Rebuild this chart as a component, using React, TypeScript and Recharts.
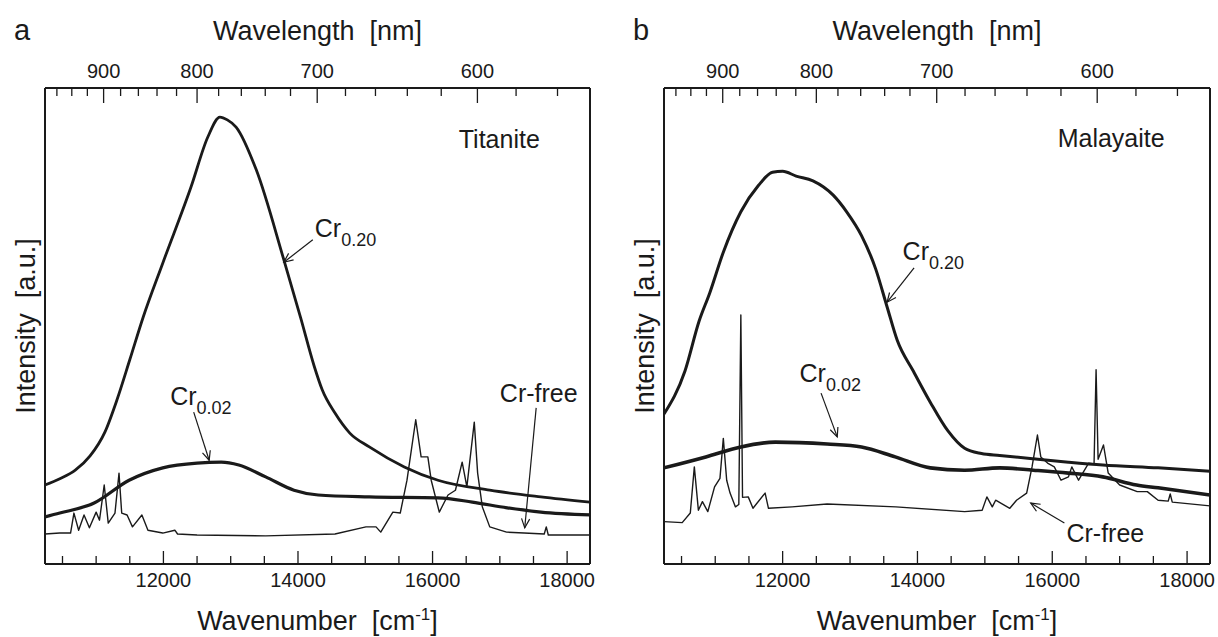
import React from "react";
import { LineChart, Line, XAxis, YAxis, ReferenceLine, ReferenceDot } from "recharts";

const FONT = '"Liberation Sans", Arial, Helvetica, sans-serif';
const INK = "#1a1a1a";

// shared axes
const WN_DOMAIN: [number, number] = [10240, 18340];
const WN_TICKS = [10500, 11000, 11500, 12000, 12500, 13000, 13500, 14000, 14500, 15000, 15500, 16000, 16500, 17000, 17500, 18000];
const WN_LABELS = [12000, 14000, 16000, 18000];
const NM_TICKS = [960, 940, 920, 900, 880, 860, 840, 820, 800, 780, 760, 740, 720, 700, 680, 660, 640, 620, 600, 580, 560];
const NM_LABELS = [900, 800, 700, 600];

// panel a: titanite, [wavenumber cm-1, intensity a.u.]
const titaniteCr020 = [
  [10240, 16.6], [10460, 17.9], [10690, 19.7], [10910, 22.7], [11130, 27.7], [11310, 34.5],
  [11500, 42.9], [11700, 51.9], [11990, 63.2], [12410, 79.2], [12660, 89.7], [12840, 93.9],
  [12950, 93.3], [13080, 91.8], [13380, 82.8], [13790, 63.9], [14040, 51.7], [14240, 41.6],
  [14360, 36.6], [14550, 31.7], [14770, 27.5], [15060, 24.6], [15580, 20.4], [16080, 17.6],
  [16850, 15.5], [17610, 14.1], [18340, 13.0],
];
const titaniteCr002 = [
  [10240, 9.9], [10460, 10.7], [10970, 12.8], [11490, 17.6], [11990, 20.2], [12500, 21.2],
  [12860, 21.4], [13120, 20.8], [13520, 18.3], [13940, 15.5], [14300, 14.5], [15060, 14.1],
  [16080, 13.9], [16590, 13.0], [17110, 11.8], [17610, 10.9], [18340, 10.3],
];
const titaniteCrFree = [
  [10240, 6.3], [10460, 6.5], [10620, 6.5], [10670, 10.7], [10740, 7.1], [10820, 10.3],
  [10900, 7.6], [11000, 10.9], [11050, 9.2], [11120, 16.6], [11180, 8.6], [11280, 10.7],
  [11340, 19.1], [11380, 10.7], [11460, 10.3], [11540, 7.8], [11680, 10.3], [11770, 7.1],
  [11990, 6.5], [12170, 7.1], [12210, 6.3], [12500, 6.1], [13520, 5.9], [14550, 6.3],
  [15010, 7.8], [15160, 7.8], [15230, 6.7], [15410, 10.9], [15520, 10.7], [15620, 17.6],
  [15750, 30.3], [15830, 22.5], [15930, 22.5], [15980, 17.6], [16100, 10.9], [16230, 14.5],
  [16340, 15.5], [16440, 21.4], [16510, 16.2], [16620, 29.8], [16670, 19.1], [16740, 12.0],
  [16850, 7.8], [17100, 6.7], [17360, 6.5], [17660, 6.3], [17690, 7.8], [17720, 6.1], [18340, 6.1],
];

// panel b: malayaite
const malayaiteCr020 = [
  [10240, 31.5], [10550, 40.5], [10760, 51.0], [10920, 57.0], [11120, 65.5], [11380, 74.0],
  [11640, 79.5], [11850, 82.3], [12000, 82.5], [12200, 81.5], [12450, 80.5], [12750, 77.5],
  [12950, 74.0], [13170, 69.0], [13380, 62.0], [13550, 54.0], [13700, 47.0], [13940, 40.5],
  [14190, 34.0], [14450, 28.0], [14700, 24.3], [14950, 23.2], [15220, 22.8], [15720, 22.1],
  [16240, 21.4], [16750, 20.8], [17570, 20.2], [18340, 19.5],
];
const malayaiteCr002 = [
  [10240, 20.2], [10860, 22.5], [11380, 24.6], [11890, 25.6], [12660, 25.2], [13170, 24.6],
  [13670, 22.5], [14190, 20.2], [14700, 19.7], [15220, 20.2], [15720, 19.7], [16240, 19.1],
  [16750, 18.3], [17250, 16.6], [17570, 16.0], [18340, 14.5],
];
const malayaiteCrFree = [
  [10240, 8.9], [10510, 8.7], [10630, 10.7], [10690, 20.4], [10750, 11.3], [10810, 13.1],
  [10890, 11.0], [10990, 16.2], [11070, 18.0], [11120, 26.4], [11170, 17.6], [11220, 14.9],
  [11300, 12.0], [11350, 12.5], [11380, 52.3], [11405, 14.0], [11490, 14.1], [11560, 11.7],
  [11740, 14.9], [11790, 11.7], [12140, 12.0], [12660, 12.6], [13680, 12.0], [14700, 11.0],
  [14960, 11.3], [15030, 14.1], [15110, 12.0], [15160, 13.4], [15370, 11.7], [15470, 13.4],
  [15620, 14.9], [15700, 20.4], [15780, 27.1], [15830, 22.5], [15930, 21.2], [16030, 20.4],
  [16130, 17.6], [16240, 18.3], [16290, 20.4], [16390, 17.6], [16540, 21.2], [16620, 21.0],
  [16650, 40.8], [16680, 22.0], [16760, 25.0], [16830, 19.1], [17000, 16.6], [17260, 15.2],
  [17410, 15.2], [17570, 13.4], [17720, 13.2], [17750, 14.7], [17780, 13.0], [18340, 12.2],
];

// annotations: text anchors and arrows (tail -> head), in data units
const titaniteNotes = [
  { text: "Titanite", at: [16390, 87.4] },
  { text: "Cr", sub: "0.20", at: [14250, 68.7] },
  { text: "Cr", sub: "0.02", at: [12100, 33.4] },
  { text: "Cr-free", at: [17000, 34.0] },
];
const titaniteArrows = [
  [[14220, 68.1], [13790, 63.4]],
  [[12450, 31.9], [12680, 21.8]],
  [[17540, 32.8], [17370, 7.6]],
];
const malayaiteNotes = [
  { text: "Malayaite", at: [16080, 87.6] },
  { text: "Cr", sub: "0.20", at: [13780, 63.9] },
  { text: "Cr", sub: "0.02", at: [12250, 38.2] },
  { text: "Cr-free", at: [16210, 4.6] },
];
const malayaiteArrows = [
  [[13950, 62.2], [13550, 55.0]],
  [[12570, 35.9], [12810, 26.7]],
  [[16180, 8.6], [15680, 12.8]],
];

const toPts = (arr: number[][]) => arr.map(([w, v]) => ({ w, v }));

function BottomTick(props: any) {
  const { x, y, payload } = props;
  const major = WN_LABELS.includes(payload.value);
  return (
    <g>
      <line x1={x} y1={y} x2={x} y2={y - (major ? 13 : 8)} stroke={INK} strokeWidth={1.3} />
      {major && (
        <text x={x} y={y + 23} textAnchor="middle" fontSize={20} fontFamily={FONT} fill={INK}>
          {payload.value}
        </text>
      )}
    </g>
  );
}

function TopTick(props: any) {
  const { x, y, payload } = props;
  const nm = Math.round(1e7 / payload.value);
  const major = NM_LABELS.includes(nm);
  return (
    <g>
      <line x1={x} y1={y} x2={x} y2={y + (major ? 15 : 8)} stroke={INK} strokeWidth={1.3} />
      {major && (
        <text x={x} y={y - 10} textAnchor="middle" fontSize={20} fontFamily={FONT} fill={INK}>
          {nm}
        </text>
      )}
    </g>
  );
}

function ArrowShape(props: any) {
  const { x1, y1, x2, y2 } = props;
  const a = Math.atan2(y2 - y1, x2 - x1);
  const L = 10;
  const s = 0.42;
  const pa = `${x2 - L * Math.cos(a - s)},${y2 - L * Math.sin(a - s)}`;
  const pb = `${x2 - L * Math.cos(a + s)},${y2 - L * Math.sin(a + s)}`;
  return (
    <g>
      <line x1={x1} y1={y1} x2={x2} y2={y2} stroke={INK} strokeWidth={1.2} />
      <polyline points={`${pa} ${x2},${y2} ${pb}`} fill="none" stroke={INK} strokeWidth={1.2} />
    </g>
  );
}

const noteShape = (text: string, sub?: string) => (p: any) => (
  <text x={p.cx} y={p.cy} fontSize={25} fontFamily={FONT} fill={INK}>
    {text}
    {sub && (
      <tspan dy={9} fontSize={18}>
        {sub}
      </tspan>
    )}
  </text>
);

// axes get 1px of room (recharts skips drawing a zero-sized axis)
function Panel({ letter, width, left, right, series, notes, arrows }: any) {
  return (
    <LineChart width={width} height={637} margin={{ top: 87, right: right - 1, bottom: 72, left: left - 1 }}>
      <XAxis
        xAxisId="b"
        dataKey="w"
        type="number"
        domain={WN_DOMAIN}
        allowDataOverflow
        ticks={WN_TICKS}
        interval={0}
        tickSize={0}
        tickMargin={0}
        tick={BottomTick}
        height={1}
        axisLine={{ stroke: INK, strokeWidth: 2 }}
        label={{
          content: (p: any) => {
            const { x, y, width: w } = p.viewBox;
            return (
              <text x={x + w / 2} y={y + 66} textAnchor="middle" fontSize={27} fontFamily={FONT} fill={INK} style={{ whiteSpace: "pre" }}>
                {"Wavenumber  [cm"}
                <tspan dy={-10} fontSize={17}>-1</tspan>
                <tspan dy={10} fontSize={27}>]</tspan>
              </text>
            );
          },
        }}
      />
      <XAxis
        xAxisId="t"
        orientation="top"
        dataKey="w"
        type="number"
        domain={WN_DOMAIN}
        allowDataOverflow
        ticks={NM_TICKS.map((nm) => 1e7 / nm)}
        interval={0}
        tickSize={0}
        tickMargin={0}
        tick={TopTick}
        height={1}
        axisLine={{ stroke: INK, strokeWidth: 2 }}
        label={{
          content: (p: any) => {
            const { x, y, width: w, height: h } = p.viewBox;
            const base = y + h - 48;
            return (
              <g>
                <text x={x - 31} y={base} fontSize={29} fontFamily={FONT} fill={INK}>{letter}</text>
                <text x={x + w / 2} y={base} textAnchor="middle" fontSize={27} fontFamily={FONT} fill={INK} style={{ whiteSpace: "pre" }}>
                  {"Wavelength  [nm]"}
                </text>
              </g>
            );
          },
        }}
      />
      <YAxis
        yAxisId="l"
        domain={[0, 100]}
        allowDataOverflow
        width={1}
        tick={false}
        tickLine={false}
        axisLine={{ stroke: INK, strokeWidth: 2 }}
        label={{
          content: (p: any) => {
            const { x, y, width: w, height: h } = p.viewBox;
            const cx = x + w - 10;
            const cy = y + h / 2;
            return (
              <text x={cx} y={cy} transform={`rotate(-90 ${cx} ${cy})`} textAnchor="middle" fontSize={27} fontFamily={FONT} fill={INK} style={{ whiteSpace: "pre" }}>
                {"Intensity  [a.u.]"}
              </text>
            );
          },
        }}
      />
      <YAxis yAxisId="r" orientation="right" domain={[0, 100]} width={1} tick={false} tickLine={false} axisLine={{ stroke: INK, strokeWidth: 2 }} />
      {series.map((s: any) => (
        <Line
          key={s.name}
          xAxisId={s.axis}
          yAxisId="l"
          data={toPts(s.data)}
          dataKey="v"
          type={s.smooth ? "monotone" : "linear"}
          stroke={INK}
          strokeWidth={s.width}
          strokeLinejoin="round"
          dot={false}
          activeDot={false}
          isAnimationActive={false}
        />
      ))}
      {arrows.map((a: number[][], i: number) => (
        <ReferenceLine
          key={`ar${i}`}
          xAxisId="b"
          yAxisId="l"
          ifOverflow="visible"
          segment={[{ x: a[0][0], y: a[0][1] }, { x: a[1][0], y: a[1][1] }]}
          shape={ArrowShape}
        />
      ))}
      {notes.map((n: any, i: number) => (
        <ReferenceDot
          key={`nt${i}`}
          xAxisId="b"
          yAxisId="l"
          x={n.at[0]}
          y={n.at[1]}
          r={1}
          ifOverflow="visible"
          shape={noteShape(n.text, n.sub)}
        />
      ))}
    </LineChart>
  );
}

export default function App() {
  return (
    <div style={{ position: "absolute", left: 0, top: 0, width: 1218, height: 637, background: "#fff" }}>
      <div style={{ position: "absolute", left: 0, top: 0 }}>
        <Panel
          letter="a"
          width={609}
          left={45}
          right={19}
          series={[
            { name: "Cr0.20", data: titaniteCr020, width: 2.8, axis: "b", smooth: true },
            { name: "Cr0.02", data: titaniteCr002, width: 3.2, axis: "b", smooth: true },
            { name: "Cr-free", data: titaniteCrFree, width: 1.4, axis: "t" },
          ]}
          notes={titaniteNotes}
          arrows={titaniteArrows}
        />
      </div>
      <div style={{ position: "absolute", left: 609, top: 0 }}>
        <Panel
          letter="b"
          width={609}
          left={55}
          right={8}
          series={[
            { name: "Cr0.20", data: malayaiteCr020, width: 3, axis: "b", smooth: true },
            { name: "Cr0.02", data: malayaiteCr002, width: 3.6, axis: "b", smooth: true },
            { name: "Cr-free", data: malayaiteCrFree, width: 1.4, axis: "t" },
          ]}
          notes={malayaiteNotes}
          arrows={malayaiteArrows}
        />
      </div>
    </div>
  );
}
